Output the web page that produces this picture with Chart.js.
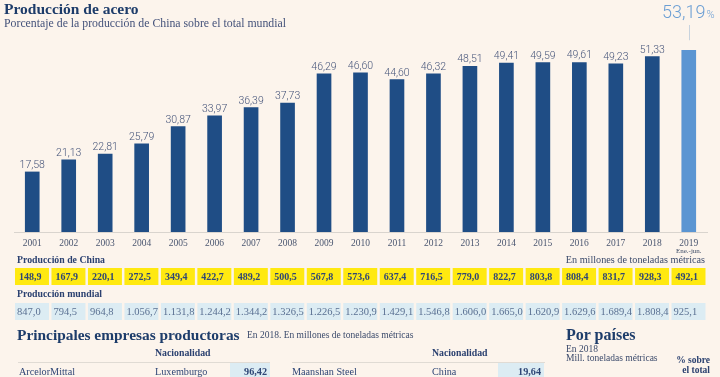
<!DOCTYPE html>
<html lang="es">
<head>
<meta charset="utf-8">
<script src="https://cdn.jsdelivr.net/npm/chart.js@4.4.1/dist/chart.umd.min.js"></script>
<style>
  html,body{margin:0;padding:0;background:#fcf4ec;}
  #wrap{position:relative;width:720px;height:377px;overflow:hidden;background:#fcf4ec;font-family:"Liberation Serif",serif;color:#2b4170;}
  #cv{position:absolute;left:0;top:0;width:720px;height:377px;}
  .t{position:absolute;white-space:nowrap;line-height:1;}
  .line{position:absolute;height:1px;background:#e0dbd4;}
  .cell{position:absolute;background:#dcecf3;}
</style>
</head>
<body>
<div id="wrap">
  <div id="cv"><canvas id="chart"></canvas></div>
  <div class="t" style="left:4px;top:1px;font-size:15.5px;font-weight:bold;color:#1d3c6a;">Producción de acero</div>
  <div class="t" style="left:4px;top:18px;font-size:11.8px;color:#44527a;">Porcentaje de la producción de China sobre el total mundial</div>

  <div class="t" style="left:17px;top:255px;font-size:9.8px;font-weight:bold;color:#2b4170;">Producción de China</div>
  <div class="t" style="right:15px;top:255px;font-size:10.2px;color:#3b4a6b;">En millones de toneladas métricas</div>
  <div class="t" style="left:17px;top:289px;font-size:9.8px;font-weight:bold;color:#2b4170;">Producción mundial</div>

  <div class="t" style="left:17px;top:327px;font-size:15.4px;font-weight:bold;color:#1d3c6a;">Principales empresas productoras</div>
  <div class="t" style="left:247px;top:331px;font-size:9.5px;color:#3b4a6b;">En 2018. En millones de toneladas métricas</div>
  <div id="companies"></div>

  <div class="t" style="left:566px;top:327px;font-size:16px;font-weight:bold;color:#1d3c6a;">Por países</div>
  <div class="t" style="left:566px;top:345px;font-size:9.5px;color:#3b4a6b;">En 2018</div>
  <div class="t" style="left:566px;top:354px;font-size:9.5px;color:#3b4a6b;">Mill. toneladas métricas</div>
  <div class="t" style="right:10px;top:356px;font-size:9.5px;font-weight:bold;color:#2b4170;text-align:right;">% sobre</div>
  <div class="t" style="right:10px;top:366px;font-size:9.5px;font-weight:bold;color:#2b4170;text-align:right;">el total</div>
</div>
<script>
// ---- data ----
const years = ['2001','2002','2003','2004','2005','2006','2007','2008','2009','2010','2011','2012','2013','2014','2015','2016','2017','2018','2019'];
const periodNote = 'Ene.-jun.';
const chinaSharePct = [17.58,21.13,22.81,25.79,30.87,33.97,36.39,37.73,46.29,46.60,44.60,46.32,48.51,49.41,49.59,49.61,49.23,51.33,53.19];
const chinaProduction = [148.9,167.9,220.1,272.5,349.4,422.7,489.2,500.5,567.8,573.6,637.4,716.5,779.0,822.7,803.8,808.4,831.7,928.3,492.1];
const worldProduction = [847.0,794.5,964.8,1056.7,1131.8,1244.2,1344.2,1326.5,1226.5,1230.9,1429.1,1546.8,1606.0,1665.0,1620.9,1629.6,1689.4,1808.4,925.1];
const companies = ['ArcelorMittal','Maanshan Steel'];
const nationalities = ['Luxemburgo','China'];
const companyOutput = [96.42,19.64];

// ---- helpers ----
function fmtES(v, dec){
  const s = v.toFixed(dec);
  let [int, frac] = s.split('.');
  int = int.replace(/\B(?=(\d{3})+(?!\d))/g, '.');
  return frac !== undefined ? int + ',' + frac : int;
}

// companies block (HTML, from arrays)
(function(){
  const host = document.getElementById('companies');
  const cols = [{name:19, nat:155, natHead:155, cellL:230, cellW:40, lineL:18, lineW:252},
                {name:292, nat:432, natHead:432, cellL:498, cellW:46, lineL:292, lineW:253}];
  let html = '';
  companies.forEach((c,i)=>{
    const p = cols[i];
    html += `<div class="t" style="left:${p.natHead}px;top:348px;font-size:9.8px;font-weight:bold;color:#2b4170;">Nacionalidad</div>`;
    html += `<div class="line" style="left:${p.lineL}px;top:362px;width:${p.lineW}px;"></div>`;
    html += `<div class="cell" style="left:${p.cellL}px;top:363px;width:${p.cellW}px;height:16px;"></div>`;
    html += `<div class="t" style="left:${p.name}px;top:367px;font-size:10.2px;color:#2f4676;">${c}</div>`;
    html += `<div class="t" style="left:${p.nat}px;top:367px;font-size:10.2px;color:#2f4676;">${nationalities[i]}</div>`;
    html += `<div class="t" style="left:${p.cellL}px;width:${p.cellW-3}px;top:367px;font-size:10.2px;font-weight:bold;color:#2f4676;text-align:right;">${fmtES(companyOutput[i],2)}</div>`;
  });
  host.innerHTML = html;
})();

const DARK = '#1f4d85';
const LIGHT = '#5b95d2';
const last = years.length - 1;

const overlay = {
  id:'overlay',
  afterDatasetsDraw(chart){
    const ctx = chart.ctx;
    const meta = chart.getDatasetMeta(0);
    const xs = chart.scales.x;
    ctx.save();
    // value labels
    ctx.textAlign = 'center';
    ctx.textBaseline = 'alphabetic';
    ctx.fillStyle = '#46557a';
    ctx.font = '300 10.5px Roboto, "Liberation Sans", sans-serif';
    meta.data.forEach((bar,i)=>{
      if(i === last) return;
      ctx.fillText(fmtES(chinaSharePct[i],2), bar.x, bar.y - 4);
    });
    // highlighted last value
    const lb = meta.data[last];
    const big = fmtES(chinaSharePct[last],2);
    ctx.font = '300 18px Roboto, "Liberation Sans", sans-serif';
    const wBig = ctx.measureText(big).width;
    ctx.font = '300 11px Roboto, "Liberation Sans", sans-serif';
    const wPct = ctx.measureText('%').width;
    const x0 = lb.x - (wBig + wPct)/2 - 1;
    ctx.textAlign = 'left';
    ctx.fillStyle = '#6c9fd4';
    ctx.font = '300 18px Roboto, "Liberation Sans", sans-serif';
    ctx.fillText(big, x0, 18);
    ctx.font = '300 11px Roboto, "Liberation Sans", sans-serif';
    ctx.fillText('%', x0 + wBig + 1, 18);
    ctx.strokeStyle = '#c8d3de';
    ctx.lineWidth = 1;
    ctx.beginPath();
    ctx.moveTo(Math.round(lb.x)+0.5, 25);
    ctx.lineTo(Math.round(lb.x)+0.5, lb.y - 10);
    ctx.stroke();
    // period note under last tick
    ctx.textAlign = 'center';
    ctx.fillStyle = '#3e4c66';
    ctx.font = '7px "Liberation Serif", serif';
    ctx.fillText(periodNote, lb.x, 253);

    // table rows
    const slot = xs.getPixelForValue(1) - xs.getPixelForValue(0);
    years.forEach((y,i)=>{
      const cx = xs.getPixelForValue(i);
      const left = cx - slot/2 + 1;
      const w = slot - 2.5;
      ctx.fillStyle = '#ffe910';
      ctx.fillRect(left, 268, w, 17);
      ctx.fillStyle = '#dcecf3';
      ctx.fillRect(left, 303, w, 17);
      ctx.textAlign = 'left';
      ctx.textBaseline = 'middle';
      ctx.fillStyle = '#2f4676';
      ctx.font = 'bold 10px "Liberation Serif", serif';
      ctx.fillText(fmtES(chinaProduction[i],1), left + 4, 277);
      ctx.fillStyle = '#5a7092';
      ctx.font = '10.5px "Liberation Serif", serif';
      ctx.fillText(fmtES(worldProduction[i],1), left + 2, 312);
    });
    ctx.restore();
  }
};

new Chart(document.getElementById('chart'), {
  type:'bar',
  data:{
    labels: years,
    datasets:[{
      data: chinaSharePct,
      backgroundColor: years.map((y,i)=> i===last ? LIGHT : DARK),
      barThickness: 14,
      borderWidth: 0
    }]
  },
  options:{
    responsive:true,
    maintainAspectRatio:false,
    animation:false,
    layout:{padding:{top:27,left:14,right:13,bottom:0}},
    plugins:{legend:{display:false}, tooltip:{enabled:false}},
    scales:{
      y:{display:false, min:0, max:60},
      x:{
        grid:{display:false, drawTicks:false},
        border:{display:true, color:'#d9d4ce', width:1},
        ticks:{padding:6, color:'#4a5670', font:{family:'"Liberation Serif", serif', size:9.5}, maxRotation:0, autoSkip:false},
        afterFit(s){ s.height = 145; }
      }
    }
  },
  plugins:[overlay]
});
</script>
</body>
</html>
